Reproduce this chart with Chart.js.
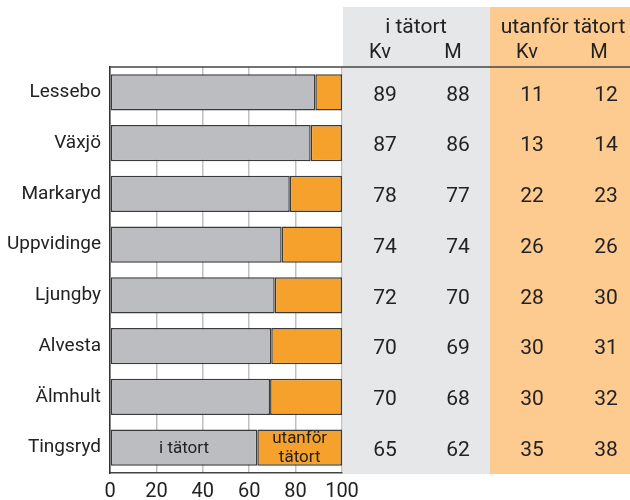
<!DOCTYPE html>
<html>
<head>
<meta charset="utf-8">
<script src="https://cdn.jsdelivr.net/npm/chart.js@4.4.0/dist/chart.umd.min.js"></script>
<style>
  body { margin: 0; background: #fff; }
  #wrap { width: 630px; height: 500px; position: relative; }
</style>
</head>
<body>
<div id="wrap"><canvas id="chart"></canvas></div>
<script>
// kommuner, top to bottom
var kommuner = ["Lessebo", "Växjö", "Markaryd", "Uppvidinge", "Ljungby", "Alvesta", "Älmhult", "Tingsryd"];
// bar lengths (percent)
var iTatort = [88.5, 86.5, 77.5, 74, 71, 69.5, 69, 63.5];
var utanfor = [11.5, 13.5, 22.5, 26, 29, 30.5, 31, 36.5];
// table numbers
var kvI = [89, 87, 78, 74, 72, 70, 70, 65];
var mI  = [88, 86, 77, 74, 70, 69, 68, 62];
var kvU = [11, 13, 22, 26, 28, 30, 30, 35];
var mU  = [12, 14, 23, 26, 30, 31, 32, 38];
var xTicks = [0, 20, 40, 60, 80, 100];

var txt = "#222";
var font = "Roboto";

// draws the table and the labels inside the last bar
var tablePlugin = {
  id: "table",
  beforeDraw: function(chart) {
    var c = chart.ctx, a = chart.chartArea;
    c.save();
    c.fillStyle = "#e6e7e9";
    c.fillRect(343, 7, 147, a.bottom - 6);
    c.fillStyle = "#fdcb8f";
    c.fillRect(490, 7, 140, a.bottom - 6);
    c.restore();
  },
  afterDraw: function(chart) {
    var c = chart.ctx, a = chart.chartArea, y = chart.scales.y;
    c.save();
    // line under headers
    c.strokeStyle = "#444";
    c.lineWidth = 1.5;
    c.beginPath();
    c.moveTo(a.left, a.top);
    c.lineTo(630, a.top);
    c.stroke();

    c.fillStyle = txt;
    c.textAlign = "center";
    c.textBaseline = "middle";
    c.font = "21px " + font;
    c.fillText("i tätort", 416, 28);
    c.fillText("utanför tätort", 563, 28);
    c.font = "20px " + font;
    c.fillText("Kv", 380, 53);
    c.fillText("M", 453, 53);
    c.fillText("Kv", 527, 53);
    c.fillText("M", 599, 53);

    c.font = "21px " + font;
    var cols = [[385, kvI], [458, mI], [532, kvU], [606, mU]];
    for (var i = 0; i < kommuner.length; i++) {
      var py = y.getPixelForValue(i) + 3;
      for (var j = 0; j < cols.length; j++) {
        c.fillText(String(cols[j][1][i]), cols[j][0], py);
      }
    }

    // labels in the Tingsryd bar
    var last = kommuner.length - 1;
    var b0 = chart.getDatasetMeta(0).data[last];
    var b1 = chart.getDatasetMeta(1).data[last];
    c.font = "17px " + font;
    c.fillText("i tätort", (b0.base + b0.x) / 2, b0.y + 1);
    c.fillText("utanför", (b1.base + b1.x) / 2, b1.y - 9);
    c.fillText("tätort", (b1.base + b1.x) / 2, b1.y + 10);
    c.restore();
  }
};

var ctx = document.getElementById("chart");
new Chart(ctx, {
  type: "bar",
  data: {
    labels: kommuner,
    datasets: [{
      label: "i tätort",
      data: iTatort,
      backgroundColor: "#bcbdc1",
      borderColor: "#3a3a3a",
      borderWidth: 1.5,
      borderSkipped: false
    }, {
      label: "utanför tätort",
      data: utanfor,
      backgroundColor: "#f6a12b",
      borderColor: "#3a3a3a",
      borderWidth: 1.5,
      borderSkipped: false
    }]
  },
  options: {
    indexAxis: "y",
    responsive: true,
    maintainAspectRatio: false,
    animation: false,
    layout: { padding: { top: 67, right: 288, left: 0, bottom: 0 } },
    plugins: { legend: { display: false }, tooltip: { enabled: false } },
    datasets: { bar: { barPercentage: 0.71, categoryPercentage: 1 } },
    scales: {
      x: {
        stacked: true,
        min: 0,
        max: 100,
        afterBuildTicks: function(s) { s.ticks = xTicks.map(function(v) { return { value: v }; }); },
        afterFit: function(s) { s.height = 27; },
        grid: { color: "#c0c0c0", lineWidth: 1.5, drawTicks: false },
        border: { color: "#444", width: 1.5 },
        ticks: { color: txt, font: { family: font, size: 20 }, padding: 7, maxRotation: 0 }
      },
      y: {
        stacked: true,
        afterFit: function(s) { s.width = 110; },
        grid: { display: false, drawTicks: false },
        border: { color: "#333", width: 1.5 },
        ticks: { color: txt, font: { family: font, size: 19 }, padding: 9 }
      }
    }
  },
  plugins: [tablePlugin]
});
</script>
</body>
</html>
